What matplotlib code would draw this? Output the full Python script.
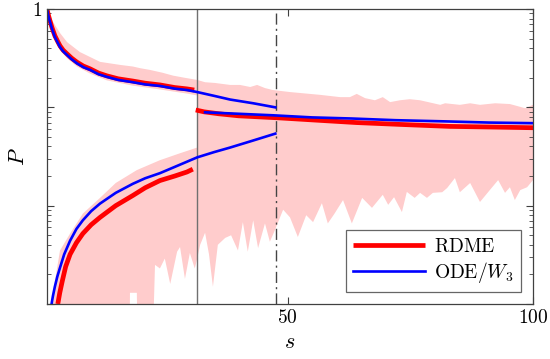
import numpy as np
import matplotlib
matplotlib.use('Agg')
import matplotlib.pyplot as plt

plt.rcParams['mathtext.fontset'] = 'cm'
plt.rcParams['font.family'] = 'serif'

# --- data ---
# ODE / W3 branches
ode_up_s = [1, 1.3, 1.6, 2, 2.6, 3.1, 3.65, 4.3, 5.1, 6, 7.1, 8.4, 9.8, 11.5, 13.2, 15.5, 18.5,
            21, 24, 27, 29.5, 31.6, 35, 38.3, 43, 47.5]
ode_up_p = [1.0, 0.845, 0.74, 0.633, 0.52, 0.463, 0.41, 0.371, 0.34, 0.309, 0.28, 0.256, 0.24,
            0.217, 0.204, 0.19, 0.18, 0.171, 0.165, 0.155, 0.15, 0.143, 0.131, 0.12, 0.11, 0.1]
ode_lo_s = [1.8, 2.0, 2.2, 2.6, 3.1, 3.6, 4.5, 5.7, 7, 8.3, 10, 11.8, 15, 18.5, 21, 24, 28,
            31.6, 35, 38.3, 43, 47.5]
ode_lo_p = [0.0009, 0.00105, 0.0012, 0.0015, 0.0019, 0.0023, 0.0032, 0.0044, 0.0058, 0.0071,
            0.0088, 0.0105, 0.0135, 0.0167, 0.019, 0.0214, 0.026, 0.031, 0.035, 0.039, 0.046, 0.054]
ode_mid_s = [33.2, 40, 47, 55, 63, 72, 82, 91, 100]
ode_mid_p = [0.089, 0.086, 0.083, 0.079, 0.077, 0.074, 0.072, 0.070, 0.069]

# RDME mean
rd_up_s = [1, 1.3, 1.6, 2, 2.6, 3.1, 3.65, 4.3, 5.1, 6, 7.1, 8.4, 9.8, 11.5, 13.2, 15.5, 18.5,
           21, 24, 27, 29.5, 31.0]
rd_up_p = [1.0, 0.86, 0.76, 0.65, 0.535, 0.476, 0.422, 0.381, 0.349, 0.317, 0.288, 0.263, 0.246,
           0.223, 0.209, 0.195, 0.185, 0.176, 0.169, 0.159, 0.154, 0.15]
rd_lo_s = [3.2, 3.6, 4.1, 4.8, 5.7, 7, 8.3, 10, 11.8, 15, 18.5, 21, 24, 27, 29.5, 30.7]
rd_lo_p = [0.001, 0.0013, 0.0017, 0.0024, 0.0032, 0.0042, 0.0052, 0.0064, 0.0076, 0.0100,
           0.0127, 0.0152, 0.018, 0.0200, 0.022, 0.0235]
rd_mid_s = [31.3, 33, 36, 40, 48.5, 56, 64, 73, 83, 92, 100]
rd_mid_p = [0.094, 0.090, 0.086, 0.082, 0.078, 0.074, 0.070, 0.067, 0.064, 0.063, 0.062]

# RDME spread (shaded)
bandA_top_s = [1, 1.3, 1.6, 2, 2.6, 3.65, 5.1, 7.7, 11.8, 15.9, 18.5, 20, 22, 24.5, 26.7, 29, 31.6]
bandA_top_p = [1.0, 0.93, 0.87, 0.78, 0.69, 0.57, 0.46, 0.365, 0.29, 0.27, 0.26, 0.25, 0.24,
               0.225, 0.21, 0.2, 0.19]
bandA_bot_s = [1, 1.3, 1.6, 2, 2.6, 3.65, 5.1, 7.1, 9.8, 13.2, 18.5, 24, 29.5, 31.6]
bandA_bot_p = [0.96, 0.78, 0.68, 0.58, 0.48, 0.38, 0.315, 0.26, 0.22, 0.188, 0.166, 0.152,
               0.138, 0.132]

bandB_top_s = [2.0, 2.2, 2.6, 3.65, 5.7, 8.3, 11.8, 15.0, 19.3, 24.0, 28.0, 31.6,
               31.6, 33.2, 35.2, 38.3, 40.3, 42.4, 43.8, 45.4, 47.0, 50.5, 52.5, 56.6, 60.7,
               62.7, 64.1, 65.8, 67.8, 69.4, 70.9, 72.9, 74.9, 77.0, 81.1, 82.1, 85.1, 87.2,
               89.2, 92.3, 95.3, 98.4, 100]
bandB_top_p = [0.0008, 0.001, 0.0017, 0.0035, 0.0052, 0.0083, 0.012, 0.017, 0.023, 0.029, 0.034, 0.039,
               0.19, 0.18, 0.177, 0.169, 0.169, 0.161, 0.169, 0.157, 0.150, 0.143, 0.140, 0.134, 0.127,
               0.127, 0.137, 0.124, 0.118, 0.127, 0.113, 0.118, 0.121, 0.118, 0.106, 0.110, 0.106, 0.110,
               0.106, 0.110, 0.108, 0.098, 0.106]
bandB_bot_s = [2.0, 17.7, 17.9, 19.3, 19.6, 22.2, 23.0, 24.0, 25.0, 26.1, 27.5, 28.1, 29.1, 30.1, 31.1,
               31.6, 32.2, 33.2, 34.0, 34.8, 35.8, 37.3, 38.5, 39.9, 40.9, 41.9, 43.0, 44.0, 45.4,
               46.4, 47.4, 49.1, 50.5, 52.1, 53.8, 55.2, 57.0, 58.2, 59.5, 61.3, 63.1, 65.2, 67.2,
               69.4, 70.5, 71.7, 73.3, 74.3, 75.9, 77.0, 78.4, 79.6, 81.5, 82.5, 84.1, 85.1, 87.2,
               89.2, 91.2, 92.9, 94.3, 95.3, 96.3, 97.4, 98.8, 100]
bandB_bot_p = [1e-4, 1e-4, 0.0013, 0.0013, 1e-4, 1e-4, 0.0025, 0.0023, 0.0029, 0.0016, 0.0034, 0.0038,
               0.0018, 0.0033, 0.0023, 0.0029, 0.0040, 0.0053, 0.0032, 0.0015, 0.0040, 0.0047, 0.0050,
               0.0035, 0.0068, 0.0034, 0.0071, 0.0037, 0.0066, 0.0043, 0.0056, 0.0091, 0.0076, 0.0048,
               0.0080, 0.0068, 0.0106, 0.0066, 0.0082, 0.0114, 0.0066, 0.0120, 0.0095, 0.0129, 0.0102,
               0.0122, 0.0086, 0.0138, 0.0120, 0.0135, 0.0120, 0.0135, 0.0137, 0.0151, 0.0191, 0.0137,
               0.0170, 0.0109, 0.0144, 0.0182, 0.0135, 0.0154, 0.0114, 0.0144, 0.0154, 0.0182]

s_switch = 31.6
s_fold = 47.65

fig = plt.figure(figsize=(5.5, 3.59), dpi=100)
ax = fig.add_axes([47/550, 55/359, 486/550, 295/359])

pink = '#ffcccc'
ax.fill(np.r_[bandA_top_s, bandA_bot_s[::-1]], np.r_[bandA_top_p, bandA_bot_p[::-1]],
        color=pink, lw=0)
ax.fill(np.r_[bandB_top_s, bandB_bot_s[::-1]], np.r_[bandB_top_p, bandB_bot_p[::-1]],
        color=pink, lw=0)

ax.axvline(s_switch, color='#707070', lw=1.0)
ax.axvline(s_fold, color='#444444', lw=1.0, ls=(0, (8, 3, 1.5, 3)))

ax.plot(rd_up_s, rd_up_p, color='red', lw=3.4, solid_capstyle='butt')
ax.plot(rd_lo_s, rd_lo_p, color='red', lw=3.4, solid_capstyle='butt')
ax.plot(rd_mid_s, rd_mid_p, color='red', lw=3.4, solid_capstyle='butt', label=r'$\mathrm{RDME}$')
ax.plot(ode_up_s, ode_up_p, color='blue', lw=1.9)
ax.plot(ode_lo_s, ode_lo_p, color='blue', lw=1.9)
ax.plot(ode_mid_s, ode_mid_p, color='blue', lw=1.9, label=r'$\mathrm{ODE}/W_3$')

ax.set_yscale('log')
ax.set_xlim(1, 100)
ax.set_ylim(1e-3, 1)
ax.set_xticks([50, 100])
ax.set_xticklabels([r'$50$', r'$100$'])
ax.set_yticks([1e-3, 1e-2, 1e-1, 1])
ax.set_yticklabels(['', '', '', r'$1$'])
ax.tick_params(which='both', direction='in', top=True, right=True, colors='#404040',
               labelcolor='black', labelsize=14)
ax.tick_params(which='major', length=5, width=0.8)
ax.tick_params(which='minor', length=3, width=0.6)
ax.tick_params(axis='x', which='minor', bottom=False, top=False)
for sp in ax.spines.values():
    sp.set_color('#404040')
    sp.set_linewidth(0.9)

ax.set_xlabel(r'$s$', fontsize=16, labelpad=3)
ax.set_ylabel(r'$P$', fontsize=16, labelpad=2)

leg = ax.legend(loc='lower right', fontsize=14, handlelength=3.7, handletextpad=0.45,
                frameon=True, fancybox=False, borderaxespad=0.6, labelspacing=0.2)
leg.get_frame().set_edgecolor('#404040')
leg.get_frame().set_linewidth(0.9)

fig.savefig('out.png', dpi=100)
